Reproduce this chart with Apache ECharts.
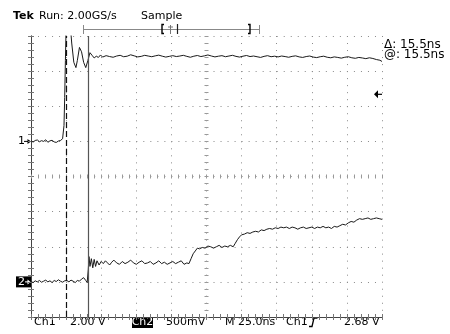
<!DOCTYPE html>
<html>
<head>
<meta charset="utf-8">
<script src="https://cdn.jsdelivr.net/npm/echarts@6/dist/echarts.min.js"></script>
<style>
  html, body { margin: 0; padding: 0; background: #fff; }
  #myChart { width: 450px; height: 334px; }
</style>
</head>
<body>
<div id="myChart"></div>
<script>
  // time in ns from left edge of screen (25 ns/div, 10 div)
  var ch1Time = [0, 1.5, 3, 4.5, 6, 7.5, 9, 10.5, 12, 13.5, 15, 16.5, 18, 19.5, 21, 22.5, 23.5, 24, 24.5, 25, 26.5, 28, 29, 30.5, 32, 33, 34.5, 36, 37.5, 39, 40.5, 42, 43.5, 45, 46.5, 48, 49.5,
    51, 53.5, 56, 58.5, 61, 63.5, 66, 68.5, 71, 73.5, 76, 78.5, 81, 83.5, 86, 88.5, 91, 93.5, 96, 98.5,
    101, 103.5, 106, 108.5, 111, 113.5, 116, 118.5, 121, 123.5, 126, 128.5, 131, 133.5, 136, 138.5,
    141, 143.5, 146, 148.5, 151, 153.5, 156, 158.5, 161, 163.5, 166, 168.5, 171, 173.5, 176, 178.5,
    181, 183.5, 186, 188.5, 191, 193.5, 196, 198.5, 201, 203.5, 206, 208.5, 211, 213.5, 216, 218.5,
    221, 223.5, 226, 228.5, 231, 233.5, 236, 238.5, 241, 243.5, 246, 248.5, 250]
  // Ch1 volts (2.00 V/div)
  var ch1Volts = [0.03, -0.04, 0.05, 0.08, -0.02, 0.04, 0.0, 0.09, -0.05, 0.03, 0.06, -0.03, -0.06, 0.02, 0.05, 0.15, 0.9, 2.5, 4.6, 6.4, 7.0, 6.6, 5.6, 4.5, 4.2, 4.6, 5.35, 5.1, 4.5, 4.2, 4.6, 5.05, 4.9, 4.75, 4.85, 4.78, 4.92,
    4.80, 4.88, 4.83, 4.79, 4.86, 4.90, 4.82, 4.85, 4.93, 4.87, 4.81, 4.84, 4.90, 4.86, 4.82, 4.87, 4.91, 4.85, 4.80, 4.84,
    4.88, 4.83, 4.86, 4.90, 4.84, 4.79, 4.85, 4.89, 4.83, 4.87, 4.92, 4.86, 4.81, 4.85, 4.88, 4.82,
    4.86, 4.90, 4.84, 4.80, 4.85, 4.89, 4.83, 4.86, 4.82, 4.78, 4.84, 4.88, 4.82, 4.85, 4.81, 4.86,
    4.83, 4.79, 4.84, 4.87, 4.81, 4.78, 4.83, 4.86, 4.80, 4.77, 4.82, 4.85, 4.79, 4.76, 4.81, 4.78,
    4.74, 4.79, 4.82, 4.76, 4.73, 4.78, 4.75, 4.71, 4.76, 4.72, 4.66, 4.62, 4.55]

  var ch2Time = [0, 1.5, 3, 4.5, 6, 7.5, 9, 10.5, 12, 13.5, 15, 16.5, 18, 19.5, 21, 22.5, 24, 25.5, 27, 28.5, 30, 31.5, 33, 34.5, 36, 37.5, 39, 40, 40.8, 41.3, 42, 43, 44, 45, 46, 47, 48.5, 50, 51.5, 53, 54.5, 56, 57.5, 59,
    61, 63, 65, 67, 69, 71, 73, 75, 77, 79, 81, 83, 85, 87, 89, 91, 93, 95, 97, 99, 101, 103, 105, 107, 109, 111, 112.5, 114, 115.5, 117, 118.5,
    120, 122, 124, 126, 128, 130, 132, 134, 136, 138, 140, 142, 144, 145.5, 147, 148.5, 150, 152, 154, 156, 158, 160, 162, 164, 166, 168, 170,
    172, 174, 176, 178, 180, 182, 184, 186, 188, 190, 192, 194, 196, 198, 200, 202, 204, 206, 208, 210, 212, 214, 216, 218, 220,
    222, 224, 226, 228, 230, 232, 234, 236, 238, 240, 242, 244, 246, 248, 250]
  // Ch2 volts (500 mV/div)
  var ch2Volts = [0.005, -0.01, 0.015, 0.0, 0.02, -0.005, 0.01, 0.025, 0.0, 0.015, -0.01, 0.02, 0.005, 0.03, 0.01, -0.005, 0.015, 0.02, 0.0, 0.025, 0.01, -0.01, 0.02, 0.01, 0.04, 0.06, 0.02, -0.01, 0.18, 0.36, 0.22, 0.33, 0.2, 0.32, 0.22, 0.3, 0.24, 0.29, 0.26, 0.3, 0.27, 0.24, 0.28, 0.31,
    0.27, 0.25, 0.29, 0.26, 0.28, 0.31, 0.27, 0.25, 0.28, 0.3, 0.26, 0.27, 0.29, 0.25, 0.27, 0.3, 0.26, 0.28, 0.25, 0.27, 0.29, 0.26, 0.28, 0.3, 0.25, 0.27, 0.26, 0.33, 0.40, 0.44, 0.48,
    0.47, 0.49, 0.48, 0.51, 0.5, 0.48, 0.5, 0.52, 0.49, 0.51, 0.5, 0.52, 0.5, 0.55, 0.6, 0.64, 0.67, 0.68, 0.7, 0.69, 0.71, 0.72, 0.71, 0.74, 0.73, 0.75, 0.76,
    0.75, 0.77, 0.76, 0.78, 0.77, 0.78, 0.76, 0.78, 0.77, 0.75, 0.77, 0.78, 0.76, 0.77, 0.78, 0.76, 0.78, 0.77, 0.79, 0.77, 0.78, 0.76, 0.79, 0.78, 0.8,
    0.82, 0.81, 0.84, 0.86, 0.85, 0.88, 0.9, 0.89, 0.9, 0.91, 0.89, 0.9, 0.91, 0.9, 0.89]

  // channel settings: volts per division and ground position (divisions from bottom)
  var ch1Scale = 2.0, ch1Ground = 5
  var ch2Scale = 0.5, ch2Ground = 1
  var triggerLevel = 2.68
  var cursorTimes = [25, 40.5]

  function toDiv (times, volts, scale, ground) {
    var out = []
    for (var i = 0; i < times.length; i++) {
      out.push([times[i], ground + volts[i] / scale])
    }
    return out
  }

  var FONT = 'DejaVu Sans'
  var gridColor = '#8a8a8a'
  var frameColor = '#444'
  var tickColor = '#777'

  function edgeAxis (pos, isX) {
    return {
      type: 'value',
      position: pos,
      min: 0,
      max: isX ? 250 : 8,
      interval: isX ? 25 : 1,
      axisLine: { show: true, lineStyle: { color: frameColor, width: 1 } },
      axisTick: { show: true, inside: true, length: 3, lineStyle: { color: tickColor } },
      minorTick: { show: true, splitNumber: 5, length: 3, lineStyle: { color: tickColor } },
      axisLabel: { show: false },
      splitLine: { show: false }
    }
  }

  function centerAxis (pos, isX, offset) {
    var ax = edgeAxis(pos, isX)
    ax.offset = offset
    ax.axisLine = { show: false }
    ax.axisTick = { show: true, inside: true, length: 4, lineStyle: { color: '#999' } }
    ax.minorTick = { show: true, splitNumber: 5, length: 4, lineStyle: { color: '#999' } }
    return ax
  }

  var xBottom = edgeAxis('bottom', true)
  xBottom.splitLine = { show: true, lineStyle: { color: gridColor, width: 1, type: [1, 6.02] } }
  var yLeft = edgeAxis('left', false)
  yLeft.splitLine = { show: true, lineStyle: { color: gridColor, width: 1, type: [1, 6.02] } }

  var myChart = echarts.init(document.getElementById('myChart'), null, { renderer: 'canvas' })

  var option = {
    animation: false,
    backgroundColor: '#fff',
    grid: { left: 31, top: 36, width: 351, height: 281, show: false },
    xAxis: [xBottom, edgeAxis('top', true), centerAxis('bottom', true, -138.5)],
    yAxis: [yLeft, edgeAxis('right', false), centerAxis('left', false, -173.5)],
    series: [
      {
        name: 'Ch1',
        type: 'line',
        xAxisIndex: 0,
        yAxisIndex: 0,
        symbol: 'none',
        clip: true,
        lineStyle: { color: '#1a1a1a', width: 1 },
        data: toDiv(ch1Time, ch1Volts, ch1Scale, ch1Ground),
        markLine: {
          silent: true,
          symbol: ['none', 'none'],
          label: { show: false },
          data: [
            { xAxis: cursorTimes[0], lineStyle: { color: '#111', width: 1.2, type: [6, 3] } },
            { xAxis: cursorTimes[1], lineStyle: { color: '#555', width: 1.2, type: 'solid' } }
          ]
        }
      },
      {
        name: 'Ch2',
        type: 'line',
        xAxisIndex: 0,
        yAxisIndex: 0,
        symbol: 'none',
        clip: true,
        lineStyle: { color: '#1a1a1a', width: 1 },
        data: toDiv(ch2Time, ch2Volts, ch2Scale, ch2Ground)
      }
    ]
  }
  myChart.setOption(option)

  // marker positions from the axes
  var g1 = myChart.convertToPixel({ gridIndex: 0 }, [0, ch1Ground])
  var g2 = myChart.convertToPixel({ gridIndex: 0 }, [0, ch2Ground])
  var trg = myChart.convertToPixel({ gridIndex: 0 }, [250, ch1Ground + triggerLevel / ch1Scale])

  function txt (s, x, y, opts) {
    opts = opts || {}
    return {
      type: 'text',
      style: {
        text: s,
        x: x,
        y: y,
        font: (opts.weight || 'normal') + ' ' + (opts.size || 11) + 'px "' + FONT + '"',
        fill: opts.color || '#000',
        textAlign: opts.align || 'left',
        textVerticalAlign: 'middle'
      }
    }
  }
  function ln (x1, y1, x2, y2, color, w) {
    return { type: 'line', shape: { x1: x1, y1: y1, x2: x2, y2: y2 }, style: { stroke: color || '#000', lineWidth: w || 1 } }
  }
  function poly (pts, color, w) {
    return { type: 'polyline', shape: { points: pts }, style: { stroke: color || '#000', lineWidth: w || 1, fill: null } }
  }

  var graphics = [
    // header
    txt('Tek', 13, 16, { weight: 'bold' }),
    txt('Run: 2.00GS/s', 39, 16),
    txt('Sample', 141, 16),
    // record bar
    ln(83, 29.5, 259, 29.5, '#888'),
    ln(83.5, 25, 83.5, 34, '#888'),
    ln(259.5, 25, 259.5, 34, '#888'),
    poly([[164, 24.5], [162, 24.5], [162, 33.5], [164, 33.5]], '#000', 1.4),
    poly([[248, 24.5], [250, 24.5], [250, 33.5], [248, 33.5]], '#000', 1.4),
    ln(170.5, 25, 170.5, 34, '#777'),
    ln(168, 27, 173, 27, '#777'),
    ln(177.5, 24, 177.5, 34, '#222', 1.2),
    // right readouts
    txt('\u0394: 15.5ns', 384, 45, { size: 12 }),
    txt('@: 15.5ns', 384, 55, { size: 12 }),
    // bottom readouts
    txt('Ch1', 34, 322),
    txt('2.00 V', 70, 322),
    { type: 'rect', shape: { x: 132, y: 317, width: 21, height: 11 }, style: { fill: '#000' } },
    txt('Ch2', 142.5, 322.5, { color: '#fff', align: 'center' }),
    txt('500mV', 166, 322),
    txt('M 25.0ns', 225, 322),
    txt('Ch1', 286, 322),
    poly([[309, 326.5], [312, 326.5], [314, 318], [317.5, 318]], '#000', 1.3),
    txt('2.68 V', 344, 322),
    // ch1 ground marker
    txt('1', 18, g1[1]),
    ln(24, g1[1], 30, g1[1], '#000', 1),
    { type: 'polygon', shape: { points: [[31, g1[1]], [27.5, g1[1] - 2.5], [27.5, g1[1] + 2.5]] }, style: { fill: '#000' } },
    // ch2 ground marker
    { type: 'rect', shape: { x: 16, y: g2[1] - 5.5, width: 15, height: 11 }, style: { fill: '#000' } },
    txt('2', 18, g2[1], { color: '#fff' }),
    ln(25, g2[1], 29, g2[1], '#fff', 1),
    { type: 'polygon', shape: { points: [[30.5, g2[1]], [27.5, g2[1] - 2.5], [27.5, g2[1] + 2.5]] }, style: { fill: '#fff' } },
    // trigger level marker
    { type: 'polygon', shape: { points: [[trg[0] - 8, trg[1]], [trg[0] - 4, trg[1] - 4], [trg[0] - 4, trg[1] + 4]] }, style: { fill: '#000' } },
    ln(trg[0] - 4, trg[1], trg[0], trg[1], '#000', 1.2)
  ]

  myChart.setOption({ graphic: graphics })
</script>
</body>
</html>
